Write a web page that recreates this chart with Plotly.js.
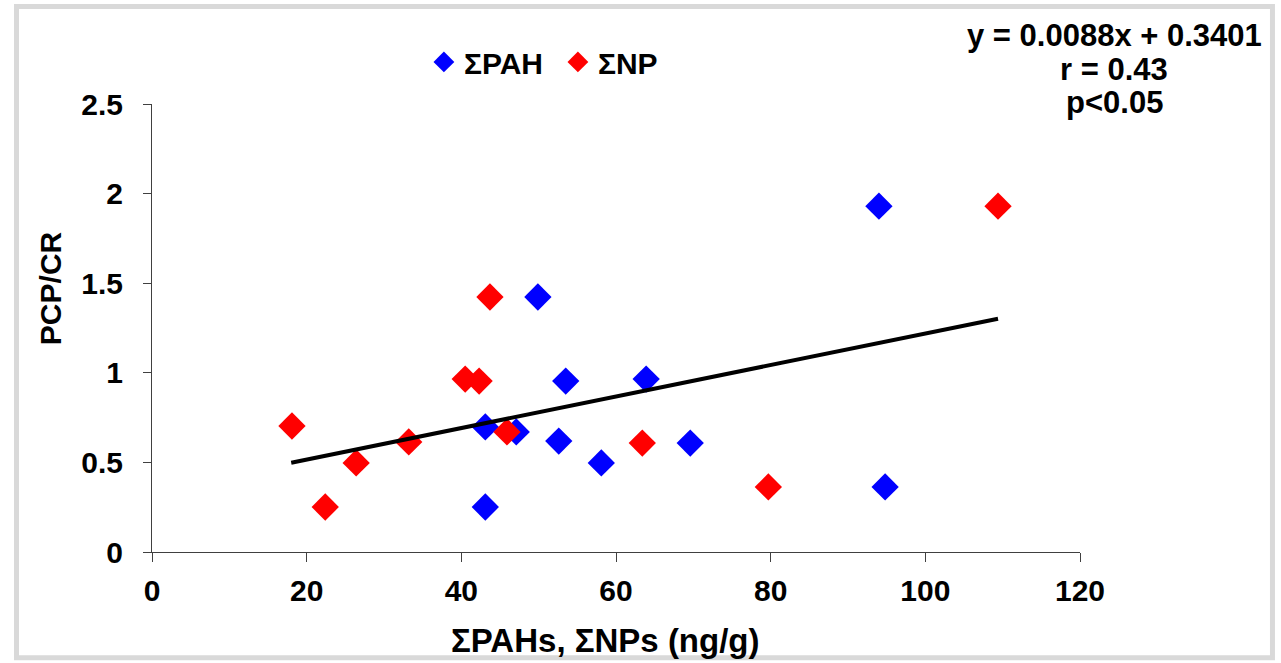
<!DOCTYPE html>
<html>
<head>
<meta charset="utf-8">
<script src="https://cdn.plot.ly/plotly-3.0.1.min.js"></script>
<style>
html,body{margin:0;padding:0;background:#fff;}
#chart{width:1281px;height:663px;}
</style>
</head>
<body>
<div id="chart"></div>
<script>
// ΣPAH series
const pahX = [94.0, 94.8, 49.9, 53.5, 63.9, 69.6, 58.1, 52.6, 43.1, 47.1, 43.1];
const pahY = [1.93, 0.363, 1.423, 0.954, 0.965, 0.608, 0.497, 0.619, 0.698, 0.67, 0.251];
// ΣNP series
const npX = [109.4, 79.7, 43.7, 42.3, 40.5, 63.4, 26.4, 33.2, 18.1, 45.9, 22.4];
const npY = [1.93, 0.363, 1.423, 0.954, 0.965, 0.608, 0.497, 0.614, 0.703, 0.67, 0.251];
// Linear trend line endpoints (y = 0.0088x + 0.3401)
const trendX = [18.0, 109.4];
const trendY = [0.498, 1.302];
const xTicks = [0, 20, 40, 60, 80, 100, 120];
const yTicks = [0, 0.5, 1, 1.5, 2, 2.5];
const yTickLabels = ['0', '0.5', '1', '1.5', '2', '2.5'];
const statText = ['y = 0.0088x + 0.3401', 'r = 0.43', 'p<0.05'];
const xTitle = 'ΣPAHs, ΣNPs (ng/g)';
const yTitle = 'PCP/CR';

const font = 'Liberation Sans, Arial, sans-serif';

const traces = [
  {
    x: pahX, y: pahY, type: 'scatter', mode: 'markers', name: 'ΣPAH',
    marker: {symbol: 'diamond', size: 21, color: '#0000ff'}
  },
  {
    x: npX, y: npY, type: 'scatter', mode: 'markers', name: 'ΣNP',
    marker: {symbol: 'diamond', size: 21, color: '#ff0000'}
  },
  {
    x: trendX, y: trendY, type: 'scatter', mode: 'lines', showlegend: false,
    line: {color: '#000000', width: 4}
  }
];

const statY = [1.1529, 1.0781, 1.0033];

const layout = {
  width: 1281, height: 663,
  margin: {l: 152, r: 201, t: 104, b: 111},
  paper_bgcolor: '#ffffff', plot_bgcolor: '#ffffff',
  font: {family: font, color: '#000', size: 30, weight: 'bold'},
  showlegend: true,
  legend: {
    orientation: 'h', x: 0.293, y: 1.094, xanchor: 'left', yanchor: 'middle',
    font: {family: font, size: 30, color: '#000', weight: 'bold'},
    bgcolor: 'rgba(0,0,0,0)', traceorder: 'normal',
    entrywidth: 89, entrywidthmode: 'pixels'
  },
  xaxis: {
    range: [0, 120], tickvals: xTicks, ticktext: xTicks.map(String),
    showgrid: false, zeroline: false, showline: true, linecolor: '#404040', linewidth: 1,
    ticks: 'outside', ticklen: 9, tickcolor: '#404040',
    tickfont: {family: font, size: 30, color: '#000', weight: 'bold'},
    ticklabelstandoff: 3,
    fixedrange: true
  },
  yaxis: {
    range: [0, 2.5], tickvals: yTicks, ticktext: yTickLabels,
    showgrid: false, zeroline: false, showline: true, linecolor: '#404040', linewidth: 1,
    ticks: 'outside', ticklen: 8, tickcolor: '#404040',
    tickfont: {family: font, size: 30, color: '#000', weight: 'bold'},
    ticklabelstandoff: 14,
    fixedrange: true
  },
  annotations: statText.map((t, i) => ({
    text: t, xref: 'paper', yref: 'paper', x: 1.037, y: statY[i],
    xanchor: 'center', yanchor: 'middle', showarrow: false,
    font: {family: font, size: 31, color: '#000', weight: 'bold'}
  })).concat([
    {
      text: xTitle, xref: 'paper', yref: 'paper', x: 0.489, y: -0.197,
      xanchor: 'center', yanchor: 'middle', showarrow: false,
      font: {family: font, size: 33, color: '#000', weight: 'bold'}
    },
    {
      text: yTitle, xref: 'paper', yref: 'paper', x: -0.1099, y: 0.589,
      xanchor: 'center', yanchor: 'middle', showarrow: false, textangle: -90,
      font: {family: font, size: 30, color: '#000', weight: 'bold'}
    }
  ]),
  shapes: [{
    type: 'rect', xref: 'paper', yref: 'paper',
    x0: -0.1460, x1: 1.2074, y0: -0.236, y1: 1.2176,
    line: {color: '#d9d9d9', width: 5}, fillcolor: 'rgba(0,0,0,0)', layer: 'below'
  }]
};

Plotly.newPlot('chart', traces, layout, {displayModeBar: false, staticPlot: true});
</script>
</body>
</html>
